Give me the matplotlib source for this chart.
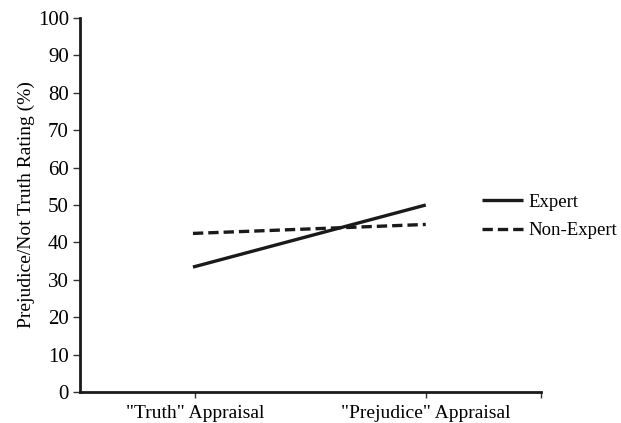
import matplotlib
matplotlib.use("Agg")
import matplotlib.pyplot as plt

categories = ['"Truth" Appraisal', '"Prejudice" Appraisal']
expert = [33.4, 50.0]
non_expert = [42.4, 44.8]
yticks = [0, 10, 20, 30, 40, 50, 60, 70, 80, 90, 100]
x_pos = [0.49, 1.5]

plt.rcParams['font.family'] = ['Liberation Serif', 'DejaVu Serif']

fig = plt.figure(figsize=(6.21, 4.23), dpi=100)
ax = fig.add_axes([80/621, 31/423, 461/621, 374/423])

ax.plot(x_pos, expert, color='#1a1a1a', lw=2.4, solid_capstyle='butt', label='Expert')
ax.plot(x_pos, non_expert, color='#1a1a1a', lw=2.4, ls=(0, (3.1, 1.5)), dash_capstyle='butt', label='Non-Expert')

ax.set_xlim(0, 2)
ax.set_ylim(0, 100)
ax.set_yticks(yticks)
ax.set_yticklabels([str(v) for v in yticks], fontsize=15)
ax.set_xticks([0.5, 1.5])
ax.set_xticklabels(categories, fontsize=14)
ax.set_xticks([2.0], minor=True)
ax.tick_params(axis='x', which='both', length=4, width=1, color='#333333', pad=5)
ax.tick_params(axis='y', length=5, width=1, color='#333333', pad=3)

for s in ['top', 'right']:
    ax.spines[s].set_visible(False)
for s in ['left', 'bottom']:
    ax.spines[s].set_linewidth(2)
    ax.spines[s].set_color('#1a1a1a')

ax.set_ylabel('Prejudice/Not Truth Rating (%)', fontsize=14, labelpad=2)

ax.legend(loc='upper left', bbox_to_anchor=(0.855, 0.55), frameon=False, fontsize=13.5,
          handlelength=2.2, handletextpad=0.3, labelspacing=0.6, borderaxespad=0)

fig.savefig('out.png', dpi=100)
